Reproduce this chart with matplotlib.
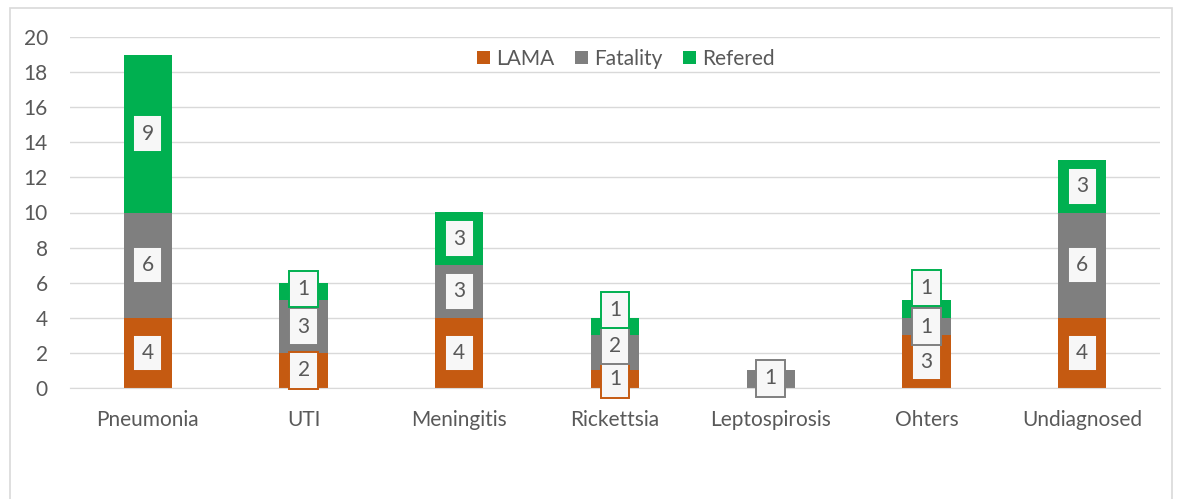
import matplotlib.pyplot as plt
from matplotlib.patches import Rectangle
import numpy as np

plt.rcParams['font.family'] = ['Lato', 'DejaVu Sans']

# data
categories = ['Pneumonia', 'UTI', 'Meningitis', 'Rickettsia', 'Leptospirosis', 'Ohters', 'Undiagnosed']
lama = [4, 2, 4, 1, 0, 3, 4]
fatality = [6, 3, 3, 2, 1, 1, 6]
refered = [9, 1, 3, 1, 0, 1, 3]
yticks = [0, 2, 4, 6, 8, 10, 12, 14, 16, 18, 20]

series = [('LAMA', lama, '#C55A11'),
          ('Fatality', fatality, '#7F7F7F'),
          ('Refered', refered, '#00B050')]

# label nudges (Excel moves overlapping labels apart)
nudge = {('Refered', 1): 0.15, ('Refered', 3): 0.95, ('Fatality', 3): 0.4,
         ('Refered', 5): 1.2, ('Fatality', 4): 0.05}

txt = '#595959'
fs = 15
fig = plt.figure(figsize=(11.77, 4.99), dpi=100)
ax = fig.add_axes([70 / 1177, 1 - 388 / 499, 1090 / 1177, 351 / 499])

x = np.arange(len(categories))
w = 0.31
bottom = np.zeros(len(categories))
for name, vals, col in series:
    vals = np.array(vals)
    ax.bar(x, vals, w, bottom=bottom, color=col, label=name, zorder=2)
    for i, v in enumerate(vals):
        if v == 0:
            continue
        yc = bottom[i] + v / 2 + nudge.get((name, i), 0)
        ax.text(x[i], yc, str(v), ha='center', va='center', fontsize=fs, color=txt, zorder=4,
                bbox=dict(boxstyle='square,pad=0.4', fc='#F7F7F7', ec=col, lw=1.4))
    bottom += vals

ax.set_xlim(-0.5, len(categories) - 0.5)
ax.set_ylim(0, 20)
ax.set_yticks(yticks)
ax.set_xticks(x)
ax.set_xticklabels(categories)
ax.tick_params(axis='both', length=0, labelsize=fs, colors=txt)
ax.tick_params(axis='y', pad=16)
ax.tick_params(axis='x', pad=16)
ax.grid(axis='y', color='#D9D9D9', lw=1, zorder=0)
for s in ['top', 'right', 'left']:
    ax.spines[s].set_visible(False)
ax.spines['bottom'].set_color('#D9D9D9')

leg = ax.legend(loc='upper center', bbox_to_anchor=(0.51, 1.02), ncol=3, frameon=False,
                fontsize=fs, handlelength=0.6, handleheight=0.6, handletextpad=0.3,
                columnspacing=1.0, labelcolor=txt)

# outer border
fig.patches.append(Rectangle((10 / 1177, -0.02), 1162 / 1177, 1.0 - 8 / 499 + 0.02,
                             transform=fig.transFigure, fill=False, ec='#D9D9D9', lw=1.2))

plt.savefig('out.png', dpi=100)
